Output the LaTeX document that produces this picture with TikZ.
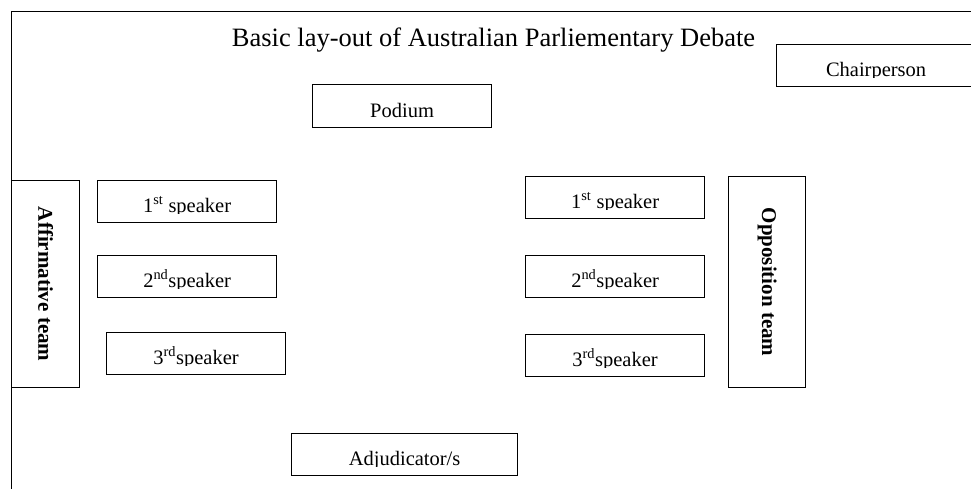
\documentclass[tikz,border=0pt]{standalone}
\usepackage{fontspec}
\setmainfont{Liberation Serif}
\begin{document}
\begin{tikzpicture}[x=1pt,y=-1pt,
  box/.style={draw, line width=1.2pt, rectangle, inner sep=0pt},
  lbl/.style={anchor=base, inner sep=0pt, font=\fontsize{20.5}{24}\selectfont},
  team/.style={rotate=-90, inner sep=0pt, font=\fontsize{21}{24}\selectfont\bfseries}]
\useasboundingbox (0,0) rectangle (971,488);
\clip (0,0) rectangle (971,488);
\newcommand\boxtext[3]{%
  \begin{scope}
    \clip ([yshift=10pt]#1.south west) rectangle (#1.north east);
    \node[lbl] (#2) at ([yshift=11pt]#1.south) {#3};
  \end{scope}}
% outer frame (clipped at right and bottom)
\node[draw, line width=1pt, rectangle, inner sep=0pt, minimum width=1000, minimum height=500, anchor=north west] (frame) at (11,11) {};
% title
\node[anchor=base, inner sep=0pt, font=\fontsize{26.5}{30}\selectfont] (title) at (493.5,46) {Basic lay-out of Australian Parliementary Debate};
% chairperson
\node[box, minimum width=199, minimum height=42, anchor=north west] (chair) at (776,44) {};
\boxtext{chair}{chairT}{Chairperson}
% podium
\node[box, minimum width=179, minimum height=43, anchor=north west] (podium) at (312,84) {};
\boxtext{podium}{podiumT}{Podium}
% affirmative
\node[box, minimum width=68, minimum height=207, anchor=north west] (aff) at (11,180) {};
\node[team] (affT) at (aff.center) {Affirmative team};
\node[box, minimum width=179, minimum height=42, anchor=north west] (a1) at (97,180) {};
\boxtext{a1}{a1T}{1\textsuperscript{st} speaker}
\node[box, minimum width=179, minimum height=42, anchor=north west] (a2) at (97,255) {};
\boxtext{a2}{a2T}{2\textsuperscript{nd}speaker}
\node[box, minimum width=179, minimum height=42, anchor=north west] (a3) at (106,332) {};
\boxtext{a3}{a3T}{3\textsuperscript{rd}speaker}
% opposition
\node[box, minimum width=77, minimum height=211, anchor=north west] (opp) at (728,176) {};
\node[team] (oppT) at (opp.center) {Opposition team};
\node[box, minimum width=179, minimum height=42, anchor=north west] (o1) at (525,176) {};
\boxtext{o1}{o1T}{1\textsuperscript{st} speaker}
\node[box, minimum width=179, minimum height=42, anchor=north west] (o2) at (525,255) {};
\boxtext{o2}{o2T}{2\textsuperscript{nd}speaker}
\node[box, minimum width=179, minimum height=42, anchor=north west] (o3) at (525,334) {};
\boxtext{o3}{o3T}{3\textsuperscript{rd}speaker}
% adjudicator
\node[box, minimum width=226, minimum height=42, anchor=north west] (adj) at (291,433) {};
\boxtext{adj}{adjT}{Adjudicator/s}
\end{tikzpicture}
\end{document}
